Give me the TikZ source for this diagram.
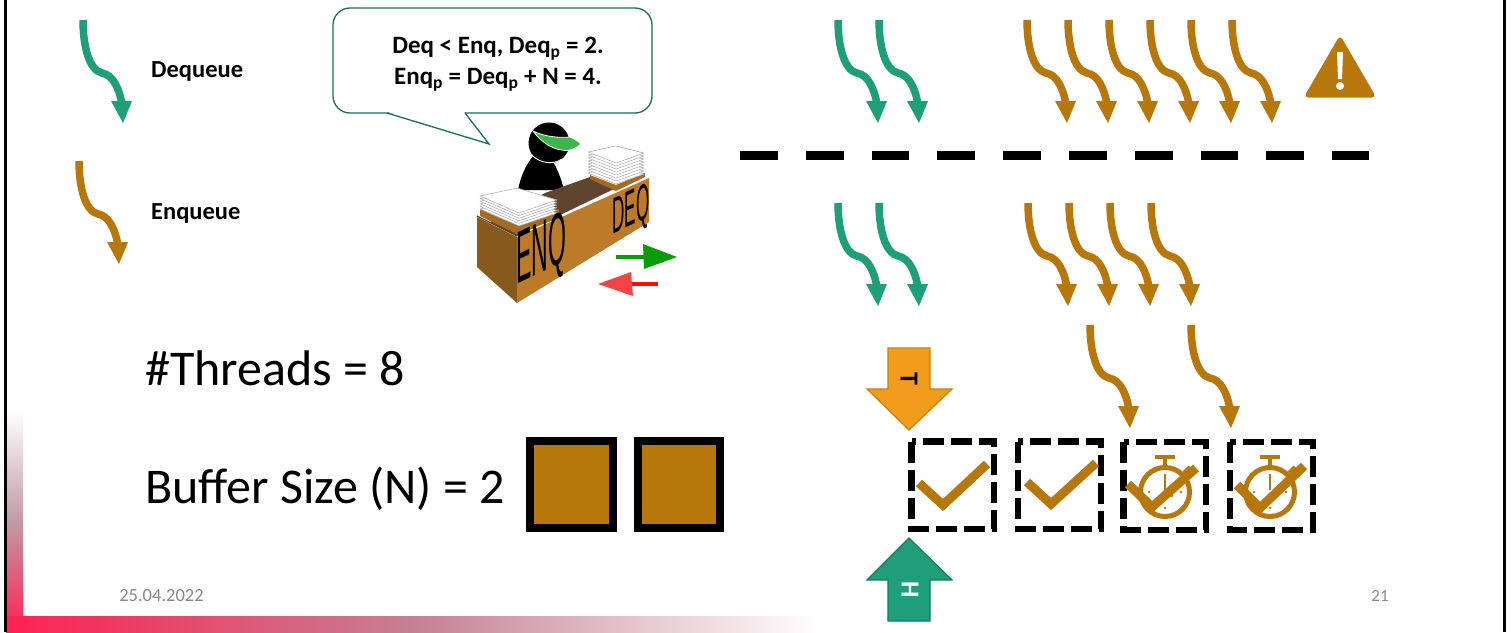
\documentclass[tikz,border=0pt]{standalone}
\usepackage{fontspec}
\setmainfont{Carlito}
\newfontfamily\deskfont{Liberation Sans}
\usetikzlibrary{calc}
\definecolor{enqc}{HTML}{B8770A}
\definecolor{deqc}{HTML}{1F9E7A}
\definecolor{tailc}{HTML}{F29C1C}
\definecolor{tailb}{HTML}{C2820F}
\definecolor{headb}{HTML}{17795E}
\definecolor{callb}{HTML}{1B6E5A}
\definecolor{redc}{HTML}{FF2050}
\definecolor{midl}{HTML}{C58093}
\definecolor{midv}{HTML}{C29AA6}
\definecolor{datec}{HTML}{898989}
\definecolor{deskd}{HTML}{855A1C}
\definecolor{deskf}{HTML}{BD7A28}
\definecolor{deskt}{HTML}{5F4530}
\definecolor{visor}{HTML}{3DB54A}
\definecolor{goc}{HTML}{0A9B0A}
\definecolor{stopc}{HTML}{F24444}
\tikzset{
  x=1pt,y=-1pt,
  wiggle/.pic={
    \draw[line width=7.5pt,pic actions,fill=none] (0,0) .. controls (0,26) and (6,50) .. (19,53)
      .. controls (30,55) and (36,68) .. (39,84);
    \fill[pic actions] (28,81) -- (49,81) -- (40,103) -- cycle;
  },
  deqarrow/.style={color=deqc},
  enqarrow/.style={color=enqc},
  dashbox/.style={draw=black,line width=6.5pt,dash pattern=on 21pt off 7pt,fill=white},
  solidbox/.style={draw=black,line width=7.5pt,fill=enqc},
  checkmark/.style={draw=enqc,line width=9pt,miter limit=4},
  bigtext/.style={font=\fontsize{50}{54}\selectfont,anchor=west,inner sep=0pt},
  labeltext/.style={font=\fontsize{24.5}{28}\selectfont\bfseries,anchor=west,inner sep=0pt},
  foottext/.style={font=\fontsize{18.5}{20}\selectfont,text=datec,inner sep=0pt},
  sheet/.style={draw=gray!70,line width=0.5pt,fill=white,line join=round},
  fatarrow/.style={line width=1.2pt,line join=miter},
}
\newcommand{\subp}{\textsubscript{p}}
\begin{document}
\begin{tikzpicture}
\useasboundingbox (0,0) rectangle (1512,632);
\fill[white] (0,0) rectangle (1512,632);
% slide gradient
\shade[bottom color=redc,top color=white,middle color=midv] (6,410) rectangle (23,632);
\shade[left color=redc,right color=white,middle color=midl] (6,616) rectangle (820,632);
\fill[black] (3.5,0) rectangle (6.5,632);
\fill[black] (1502.5,0) rectangle (1505.5,632);
% legend
\pic[deqarrow] at (83,20) {wiggle};
\pic[enqarrow] at (79,161) {wiggle};
\node[labeltext] (ldeq) at (151,71) {Dequeue};
\node[labeltext] (lenq) at (151,213) {Enqueue};
% callout
\draw[callb,line width=1.3pt,fill=white,rounded corners=17pt] (333,8) rectangle (652,113);
\fill[white] (388,112) -- (489,144) -- (464,112) -- cycle;
\draw[callb,line width=1.3pt,line join=miter] (387,113) -- (489,144) -- (465,113);
\node[font=\fontsize{25}{31}\selectfont\bfseries,align=center,inner sep=0pt] (call) at (498,64.5)
  {Deq < Enq, Deq\subp{} = 2.\\ Enq\subp{} = Deq\subp{} + N = 4.};
% person
\fill[black] (518,190) .. controls (521,175) and (526,165) .. (533,156) -- (552,160)
  .. controls (557,168) and (561,178) .. (564,190) -- cycle;
\fill[black] (549,143) circle (20.5);
\draw[white,line width=0.9pt] (532,155) .. controls (538,162) and (552,166) .. (562,159);
\fill[visor,draw=white,line width=0.8pt] (533,131) .. controls (545,137) and (560,138) .. (570,137)
  .. controls (575,139) and (579,142) .. (581,144) .. controls (575,149) and (568,152) .. (562,150)
  .. controls (552,149) and (541,142) .. (533,131) -- cycle;
% desk
\fill[deskt] (545,193) -- (590,177) -- (616,188) -- (517,236) -- (490,222) -- cycle;
\fill[deskd] (477,217) -- (517,237) -- (517,303) -- (477,267) -- cycle;
\fill[deskf] (517,237) -- (649,178) -- (649,222) -- (517,303) -- cycle;
\draw[deskt,line width=1.2pt] (477,216) -- (517,236);
% trays
\fill[deskf!88!black] (480,209) -- (517,225) -- (559,209) -- (559,218) -- (517,234) -- (480,216) -- cycle;
\fill[deskf!88!black] (590,175) -- (616,185) -- (645,173) -- (645,177) -- (616,191) -- (590,179) -- cycle;
% paper stacks
\foreach \d in {13,10.4,7.8,5.2,2.6,0} {
  \draw[sheet] (480,{196+\d}) -- (517,{188+\d}) -- (557,{200+\d}) -- (519,{213+\d}) -- cycle;
}
\foreach \d in {21,18,15,12,9,6,3,0} {
  \draw[sheet] (588,{152+\d}) -- (616,{146+\d}) -- (644,{153+\d}) -- (616,{163+\d}) -- cycle;
}
% desk text
\begin{scope}[shift={(541,254)},cm={2.3,1.1,0,7.4,(0,0)}]
  \node[transform shape,font=\deskfont,inner sep=0pt] (enq) at (0,0) {ENQ};
\end{scope}
\begin{scope}[shift={(631,213)},cm={1.7,0.8,0,5.1,(0,0)}]
  \node[transform shape,font=\deskfont,inner sep=0pt] (deq) at (0,0) {DEQ};
\end{scope}
% small arrows
\draw[goc,line width=4.5pt] (616,257) -- (648,257);
\fill[goc] (643,244) -- (677,257) -- (644,269) -- cycle;
\draw[red!90!orange,line width=4.5pt] (658,284) -- (626,284);
\fill[stopc] (598,284) -- (631,272) -- (633,296) -- cycle;
% big texts
\node[bigtext] (threads) at (145,368) {\#Threads = 8};
\node[bigtext] (bufsize) at (145,489) {Buffer Size (N) = 2};
\node[solidbox,minimum width=83pt,minimum height=87pt,anchor=center,inner sep=0pt] (b1) at (571.5,484.5) {};
\node[solidbox,minimum width=82pt,minimum height=87pt,anchor=center,inner sep=0pt] (b2) at (679,484.5) {};
% top arrows
\foreach \x in {838,879} { \pic[deqarrow] at (\x,20) {wiggle}; \pic[deqarrow] at (\x,203) {wiggle}; }
\foreach \x in {1027,1068,1109,1150,1191,1232} { \pic[enqarrow] at (\x,20) {wiggle}; }
\foreach \x in {1028,1069,1110,1151} { \pic[enqarrow] at (\x,203) {wiggle}; }
\pic[enqarrow] at (1090,325) {wiggle};
\pic[enqarrow] at (1191,325) {wiggle};
% warning
\fill[enqc,draw=enqc,line width=5pt,line join=round] (1340,40) -- (1372,95) -- (1308,95) -- cycle;
\fill[white] (1337,52) -- (1343,52) -- (1342,79) -- (1338,79) -- cycle;
\fill[white] (1340,86) circle (4);
% barrier
\draw[black,line width=9pt,dash pattern=on 37.8pt off 28pt] (740,155.5) -- (1369,155.5);
% queue pointers
\draw[fatarrow,draw=tailb,fill=tailc] (888,348) -- (930,348) -- (930,389) -- (952,389) -- (909,430) -- (867,389) -- (888,389) -- cycle;
\node[rotate=-90,font=\fontsize{26}{28}\selectfont\bfseries,inner sep=0pt] (tl) at (909,379) {T};
\draw[fatarrow,draw=headb,fill=deqc] (888,621) -- (930,621) -- (930,580) -- (952,580) -- (909,538) -- (867,580) -- (888,580) -- cycle;
\node[rotate=-90,font=\fontsize{26}{28}\selectfont\bfseries,text=white,inner sep=0pt] (hl) at (910,590) {H};
% dashed slots
\draw[dashbox] (911.5,441.5) rectangle (994,529);
\draw[dashbox] (1018,441.5) rectangle (1101,529);
\draw[dashbox] (1123.5,442) rectangle (1206,530);
\draw[dashbox] (1230,442) rectangle (1313,530);
\draw[checkmark] (919,483) -- (943,505) -- (987,464);
\draw[checkmark] (1027,482) -- (1051,504) -- (1096,463);
% stopwatches
\foreach \cx/\cy/\r in {1165/492/24.5,1270/492/24.5} {
  \draw[enqc,line width=5pt] (\cx,\cy) circle (\r);
  \draw[enqc,line width=4pt] (\cx-10,\cy-35) -- (\cx+10,\cy-35);
  \draw[enqc,line width=4pt] (\cx,\cy-35) -- (\cx,\cy-25);
  \draw[enqc,line width=4pt] (\cx+19,\cy-19) -- (\cx+25,\cy-25);
  \draw[enqc,line width=1.8pt] (\cx,\cy-18) -- (\cx,\cy-2);
  \foreach \dx/\dy in {-16/0,16/0,7/4,0/16} { \fill[enqc] (\cx+\dx,\cy+\dy) circle (1.3); }
}
\draw[checkmark] (1128,484) -- (1152,507) -- (1196,468);
\draw[checkmark] (1237,485) -- (1260,508) -- (1304,466);
% footer
\node[foottext] (date) at (161.5,596) {25.04.2022};
\node[foottext,font=\fontsize{17}{20}\selectfont] (page) at (1380,596) {21};
\end{tikzpicture}
\end{document}
